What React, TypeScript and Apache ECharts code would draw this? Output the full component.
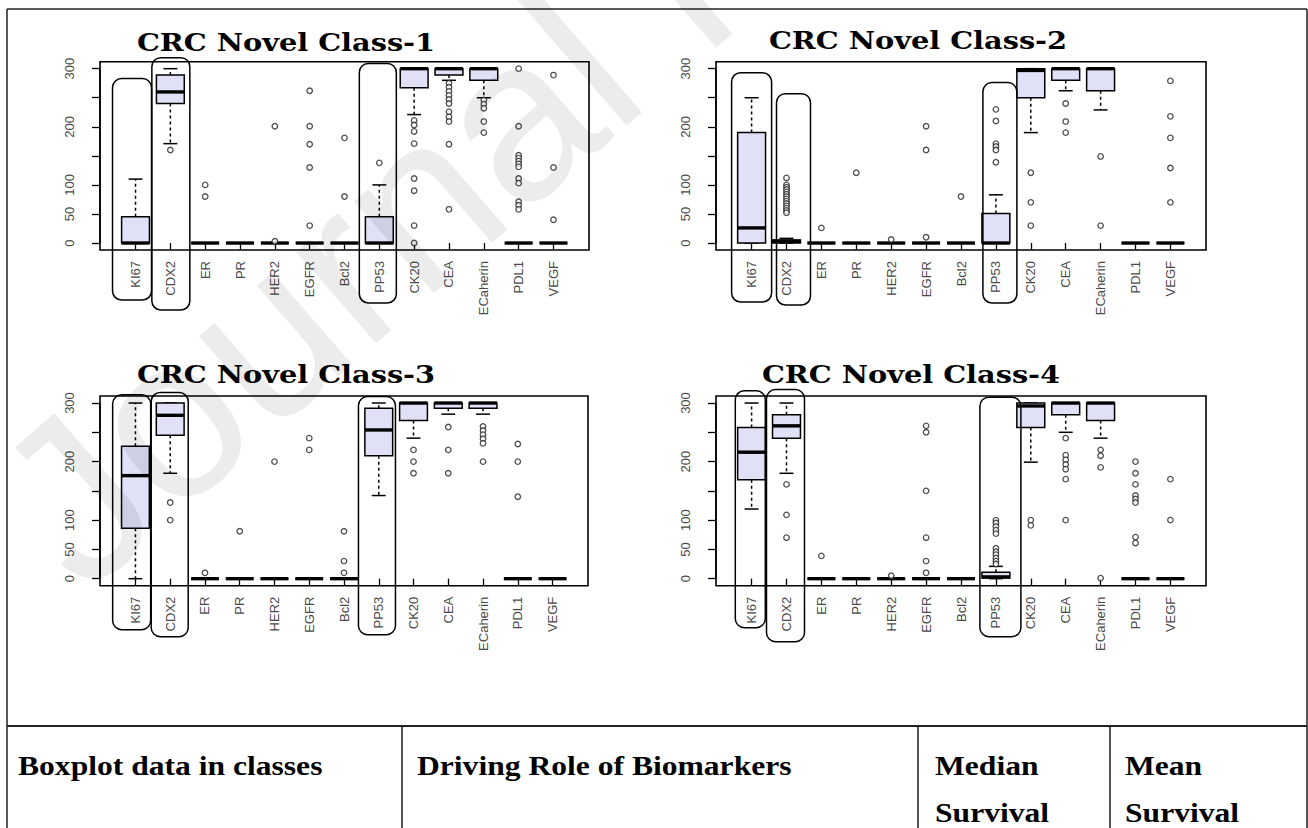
import React, { useEffect, useRef } from 'react';
import * as echarts from 'echarts';

// ---------- data ----------
const BIOMARKERS = ['KI67', 'CDX2', 'ER', 'PR', 'HER2', 'EGFR', 'Bcl2', 'PP53', 'CK20', 'CEA', 'ECaherin', 'PDL1', 'VEGF'];
const PANEL_TITLES = ['CRC Novel Class-1', 'CRC Novel Class-2', 'CRC Novel Class-3', 'CRC Novel Class-4'];
const Y_TICK_LABELS = [0, 50, 100, 200, 300];
const Y_MIN = 0;
const Y_MAX = 300;
const Y_STEP = 50;
const HIGHLIGHTED = ['KI67', 'CDX2', 'PP53'];

// [min, Q1, median, Q3, max] per biomarker
const CLASS1_BOXES = [
  [0, 0, 0, 45, 110], [171, 240, 260, 289, 300], [0, 0, 0, 0, 0], [0, 0, 0, 0, 0], [0, 0, 0, 0, 0],
  [0, 0, 0, 0, 0], [0, 0, 0, 0, 0], [0, 0, 0, 45, 100], [221, 267, 300, 300, 300], [280, 289, 300, 300, 300],
  [250, 280, 300, 300, 300], [0, 0, 0, 0, 0], [0, 0, 0, 0, 0],
];
const CLASS1_OUTLIERS = [
  [], [160], [100, 80], [], [201, 3], [262, 201, 170, 130, 30], [181, 80], [138],
  [211, 203, 192, 171, 111, 90, 30, 0], [275, 268, 261, 254, 247, 240, 226, 217, 209, 170, 58],
  [246, 239, 232, 209, 190], [300, 201, 151, 146, 141, 136, 131, 111, 103, 71, 65, 58], [289, 130, 40],
];

const CLASS2_BOXES = [
  [0, 0, 26, 190, 250], [0, 0, 3, 5, 8], [0, 0, 0, 0, 0], [0, 0, 0, 0, 0], [0, 0, 0, 0, 0],
  [0, 0, 0, 0, 0], [0, 0, 0, 0, 0], [0, 0, 0, 51, 83], [190, 250, 297, 300, 300], [262, 280, 300, 300, 300],
  [229, 262, 300, 300, 300], [0, 0, 0, 0, 0], [0, 0, 0, 0, 0],
];
const CLASS2_OUTLIERS = [
  [], [112, 100, 96, 92, 88, 84, 80, 76, 72, 68, 64, 60, 56, 52], [26], [121], [6], [201, 160, 10], [80],
  [230, 210, 171, 166, 160, 139], [121, 70, 30], [240, 209, 190], [149, 30], [], [279, 218, 181, 129, 70],
];

const CLASS3_BOXES = [
  [0, 86, 176, 226, 300], [180, 245, 279, 300, 300], [0, 0, 0, 0, 0], [0, 0, 0, 0, 0], [0, 0, 0, 0, 0],
  [0, 0, 0, 0, 0], [0, 0, 0, 0, 0], [142, 210, 254, 291, 300], [240, 270, 300, 300, 300], [281, 291, 300, 300, 300],
  [281, 291, 300, 300, 300], [0, 0, 0, 0, 0], [0, 0, 0, 0, 0],
];
const CLASS3_OUTLIERS = [
  [], [130, 100], [10], [81], [200], [240, 220], [81, 30, 10], [],
  [220, 200, 180], [259, 220, 180], [260, 253, 246, 239, 231, 200], [230, 200, 140], [],
];

const CLASS4_BOXES = [
  [119, 169, 216, 258, 300], [180, 240, 261, 280, 300], [0, 0, 0, 0, 0], [0, 0, 0, 0, 0], [0, 0, 0, 0, 0],
  [0, 0, 0, 0, 0], [0, 0, 0, 0, 0], [0, 1, 3, 11, 21], [199, 258, 295, 300, 300], [250, 280, 300, 300, 300],
  [240, 270, 300, 300, 300], [0, 0, 0, 0, 0], [0, 0, 0, 0, 0],
];
const CLASS4_OUTLIERS = [
  [], [161, 109, 70], [39], [], [5], [261, 250, 150, 70, 30, 10], [],
  [100, 95, 89, 83, 77, 52, 46, 41, 35, 30, 25], [100, 91], [240, 211, 203, 195, 187, 170, 100],
  [220, 210, 190, 1], [200, 180, 161, 142, 136, 130, 71, 61], [170, 100],
];

const TABLE_ROW1 = ['Boxplot data in classes', 'Driving Role of Biomarkers', 'Median', 'Mean'];
const TABLE_ROW2 = ['', '', 'Survival', 'Survival'];
const WATERMARK = 'Journal Pre-proof';

const ALL_BOXES = [CLASS1_BOXES, CLASS2_BOXES, CLASS3_BOXES, CLASS4_BOXES];
const ALL_OUTLIERS = [CLASS1_OUTLIERS, CLASS2_OUTLIERS, CLASS3_OUTLIERS, CLASS4_OUTLIERS];

// ---------- layout ----------
const PANELS = [
  { x0: 100, x1: 589, y0: 61.7, y1: 250, tx: 286, ty: 42 },
  { x0: 716, x1: 1206, y0: 61.7, y1: 250, tx: 918, ty: 40 },
  { x0: 100, x1: 588, y0: 396, y1: 585.7, tx: 286, ty: 374 },
  { x0: 716, x1: 1206, y0: 396, y1: 585.7, tx: 911, ty: 374 },
];
// per panel, per highlighted marker: [dx, width, top (axis units), bottom below frame px]
const LOOPS = [
  [[-3.5, 39, 283, 50], [0.5, 38, 319, 60], [-1.5, 37, 309, 53]],
  [[0, 40, 293, 52], [7, 34, 257, 55], [4, 34, 276, 53]],
  [[-3.8, 38, 314, 44], [-0.5, 37, 318, 51], [-1.8, 37, 311, 49]],
  [[-1.3, 30, 321, 42], [-1, 38, 323, 56], [4.5, 41, 310, 51]],
];
const TABLE_COLS = [18, 417, 935, 1125];
const TABLE_LINES_X = [402, 918, 1110];

function gridOf(p: any) {
  const ux = (p.x1 - p.x0) / 14.04;
  const uy = (p.y1 - p.y0) / 324;
  return { left: p.x0 + 0.52 * ux, width: 13 * ux, top: p.y0 + 12 * uy, height: 300 * uy, ux, uy };
}

function renderBox(params: any, api: any) {
  const x = api.value(0);
  const mn = api.value(1), q1 = api.value(2), md = api.value(3), q3 = api.value(4), mx = api.value(5);
  const bw = api.size([1, 0])[0] * 0.8;
  const hw = bw / 2;
  const pMin = api.coord([x, mn]);
  const pQ1 = api.coord([x, q1]);
  const pMd = api.coord([x, md]);
  const pQ3 = api.coord([x, q3]);
  const pMx = api.coord([x, mx]);
  const cx = pMd[0];
  const ink = '#000';
  const children: any[] = [];
  if (mx > q3) {
    children.push({ type: 'line', shape: { x1: cx, y1: pQ3[1], x2: cx, y2: pMx[1] }, style: { stroke: ink, lineWidth: 1.5, lineDash: [3, 3] } });
  }
  if (mn < q1) {
    children.push({ type: 'line', shape: { x1: cx, y1: pQ1[1], x2: cx, y2: pMin[1] }, style: { stroke: ink, lineWidth: 1.5, lineDash: [3, 3] } });
  }
  children.push({ type: 'line', shape: { x1: cx - hw / 2, y1: pMx[1], x2: cx + hw / 2, y2: pMx[1] }, style: { stroke: ink, lineWidth: 1.5 } });
  children.push({ type: 'line', shape: { x1: cx - hw / 2, y1: pMin[1], x2: cx + hw / 2, y2: pMin[1] }, style: { stroke: ink, lineWidth: 1.5 } });
  children.push({ type: 'rect', shape: { x: cx - hw, y: pQ3[1], width: bw, height: pQ1[1] - pQ3[1] }, style: { fill: '#e0e0f6', stroke: ink, lineWidth: 1.5 } });
  children.push({ type: 'line', shape: { x1: cx - hw, y1: pMd[1], x2: cx + hw, y2: pMd[1] }, style: { stroke: ink, lineWidth: 3.4 } });
  return { type: 'group', children };
}

export default function App() {
  const ref = useRef<HTMLDivElement>(null);
  useEffect(() => {
    document.body.style.margin = '0';
    document.body.style.background = '#fff';
    if (!ref.current) return;
    const chart = echarts.init(ref.current, undefined, { renderer: 'svg' });

    const grids: any[] = [];
    const xAxes: any[] = [];
    const yAxes: any[] = [];
    const series: any[] = [];
    PANELS.forEach((p, i) => {
      const g = gridOf(p);
      grids.push({ left: g.left, top: g.top, width: g.width, height: g.height, show: false, containLabel: false });
      xAxes.push({
        type: 'category', gridIndex: i, data: BIOMARKERS, offset: p.y1 - (g.top + g.height),
        axisLine: { show: false },
        axisTick: { show: true, alignWithLabel: true, length: 7, lineStyle: { color: '#000', width: 1.3 } },
        axisLabel: { rotate: 90, interval: 0, margin: 11, fontSize: 13, color: '#4a4a4a', fontFamily: 'Liberation Sans, Arial, sans-serif' },
        splitLine: { show: false },
      });
      yAxes.push({
        type: 'value', gridIndex: i, min: Y_MIN, max: Y_MAX, interval: Y_STEP, offset: g.left - p.x0,
        axisLine: { show: true, lineStyle: { color: '#000', width: 1.5 } },
        axisTick: { show: true, length: 8, lineStyle: { color: '#000', width: 1.3 } },
        axisLabel: {
          rotate: 90, margin: 24, fontSize: 13, color: '#4a4a4a', fontFamily: 'Liberation Sans, Arial, sans-serif',
          showMinLabel: true, showMaxLabel: true,
          formatter: (v: number) => (Y_TICK_LABELS.includes(v) ? String(v) : ''),
        },
        splitLine: { show: false },
      });
      series.push({
        type: 'custom', xAxisIndex: i, yAxisIndex: i, renderItem: renderBox, clip: false, silent: true,
        encode: { x: 0, y: [1, 2, 3, 4, 5] },
        data: ALL_BOXES[i].map((b, k) => [k, ...b]),
        z: 2,
      });
      series.push({
        type: 'scatter', xAxisIndex: i, yAxisIndex: i, silent: true, clip: false,
        symbol: 'circle', symbolSize: 5.5,
        itemStyle: { color: '#fff', borderColor: '#222', borderWidth: 1.3 },
        data: ALL_OUTLIERS[i].flatMap((arr, k) => arr.map((v) => [k, v])),
        z: 3,
      });
    });

    chart.setOption({
      animation: false,
      backgroundColor: '#fff',
      grid: grids,
      xAxis: xAxes,
      yAxis: yAxes,
      series,
    });

    const gfx: any[] = [];
    const lineStyle = (c: string, w: number) => ({ stroke: c, lineWidth: w });
    // outer page frame and table rules
    gfx.push({ type: 'line', shape: { x1: 7, y1: 9, x2: 1307, y2: 9 }, style: lineStyle('#222', 1.5), z: 20 });
    gfx.push({ type: 'line', shape: { x1: 7, y1: 9, x2: 7, y2: 828 }, style: lineStyle('#222', 1.5), z: 20 });
    gfx.push({ type: 'line', shape: { x1: 1307, y1: 9, x2: 1307, y2: 828 }, style: lineStyle('#222', 1.5), z: 20 });
    gfx.push({ type: 'line', shape: { x1: 7, y1: 726, x2: 1307, y2: 726 }, style: lineStyle('#222', 2), z: 20 });
    TABLE_LINES_X.forEach((x) => {
      gfx.push({ type: 'line', shape: { x1: x, y1: 727, x2: x, y2: 828 }, style: lineStyle('#555', 2), z: 20 });
    });
    const tableFont = 'bold 27px "Liberation Serif", "Times New Roman", serif';
    TABLE_ROW1.forEach((t, i) => {
      gfx.push({ type: 'text', x: TABLE_COLS[i], y: 766, scaleX: 1.17, z: 20,
        style: { text: t, font: tableFont, fill: '#000', textAlign: 'left', textVerticalAlign: 'middle' } });
      if (TABLE_ROW2[i]) {
        gfx.push({ type: 'text', x: TABLE_COLS[i], y: 813, scaleX: 1.17, z: 20,
          style: { text: TABLE_ROW2[i], font: tableFont, fill: '#000', textAlign: 'left', textVerticalAlign: 'middle' } });
      }
    });

    PANELS.forEach((p, pi) => {
      gfx.push({ type: 'rect', shape: { x: p.x0, y: p.y0, width: p.x1 - p.x0, height: p.y1 - p.y0 }, style: { fill: 'none', stroke: '#000', lineWidth: 1.6 }, z: 10 });
      gfx.push({ type: 'text', x: p.tx, y: p.ty, scaleX: 1.2, z: 10,
        style: { text: PANEL_TITLES[pi], font: 'bold 24px "DejaVu Serif", serif', fill: '#000', textAlign: 'center', textVerticalAlign: 'middle' } });
      LOOPS[pi].forEach(([dx, w, topV, bot], k) => {
        const ci = BIOMARKERS.indexOf(HIGHLIGHTED[k]);
        const pt = chart.convertToPixel({ gridIndex: pi } as any, [ci, topV]) as number[];
        const x = pt[0] + dx - w / 2;
        const y = pt[1];
        gfx.push({ type: 'rect', shape: { x, y, width: w, height: p.y1 + bot - y, r: 9 }, style: { fill: 'none', stroke: '#000', lineWidth: 1.5 }, z: 11 });
      });
    });

    gfx.push({ type: 'text', x: 32, y: 537, rotation: (41 * Math.PI) / 180, z: 30, silent: true,
      style: { text: WATERMARK, font: '230px "Liberation Sans", Arial, sans-serif', fill: 'rgba(0,0,0,0.075)', textAlign: 'left', textVerticalAlign: 'middle' } });

    chart.setOption({ graphic: { elements: gfx } });

    return () => chart.dispose();
  }, []);
  return <div ref={ref} style={{ width: 1308, height: 828 }} />;
}
